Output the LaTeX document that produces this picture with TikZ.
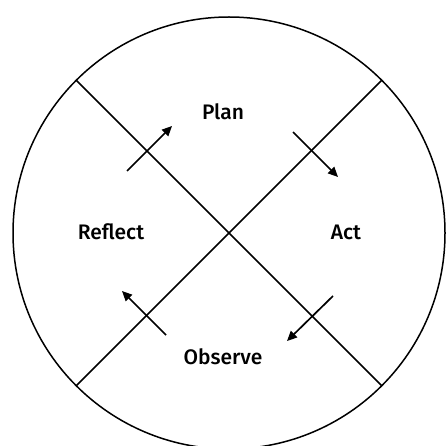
\documentclass[tikz,border=0pt]{standalone}
\usepackage{fontspec}
\setmainfont{Fira Sans Medium}
\usetikzlibrary{arrows.meta}

\begin{document}
\begin{tikzpicture}[
  x=1pt, y=-1pt,
  every node/.style={font=\fontsize{21}{21}\selectfont, inner sep=0pt},
  ring/.style={draw, line width=1.5pt},
  cross/.style={draw, line width=1.7pt},
  turn/.style={draw, line width=1.7pt, -{Triangle[length=10pt,width=9pt]}}
]
  \useasboundingbox (0,0) rectangle (445,446);

  % circle and the two diagonals
  \coordinate (c) at (229,233);
  \draw[ring] (c) circle[radius=216];
  \coordinate (nw) at (76,80);
  \coordinate (ne) at (382,80);
  \coordinate (sw) at (76,386);
  \coordinate (se) at (382,386);
  \draw[cross] (nw) -- (se);
  \draw[cross] (ne) -- (sw);

  % stages
  \node (plan)    at (223,112) {Plan};
  \node (act)     at (346,232) {Act};
  \node (observe) at (223,357) {Observe};
  \node (reflect) at (111,232) {Reflect};

  % cycle arrows
  \coordinate (reflect-tail) at (127,171);
  \coordinate (reflect-head) at (172,126);
  \coordinate (plan-tail)    at (293,132);
  \coordinate (plan-head)    at (338,177);
  \coordinate (act-tail)     at (333,296);
  \coordinate (act-head)     at (287,341);
  \coordinate (observe-tail) at (166,335);
  \coordinate (observe-head) at (122,291);
  \draw[turn] (reflect-tail) -- (reflect-head);
  \draw[turn] (plan-tail) -- (plan-head);
  \draw[turn] (act-tail) -- (act-head);
  \draw[turn] (observe-tail) -- (observe-head);
\end{tikzpicture}
\end{document}
